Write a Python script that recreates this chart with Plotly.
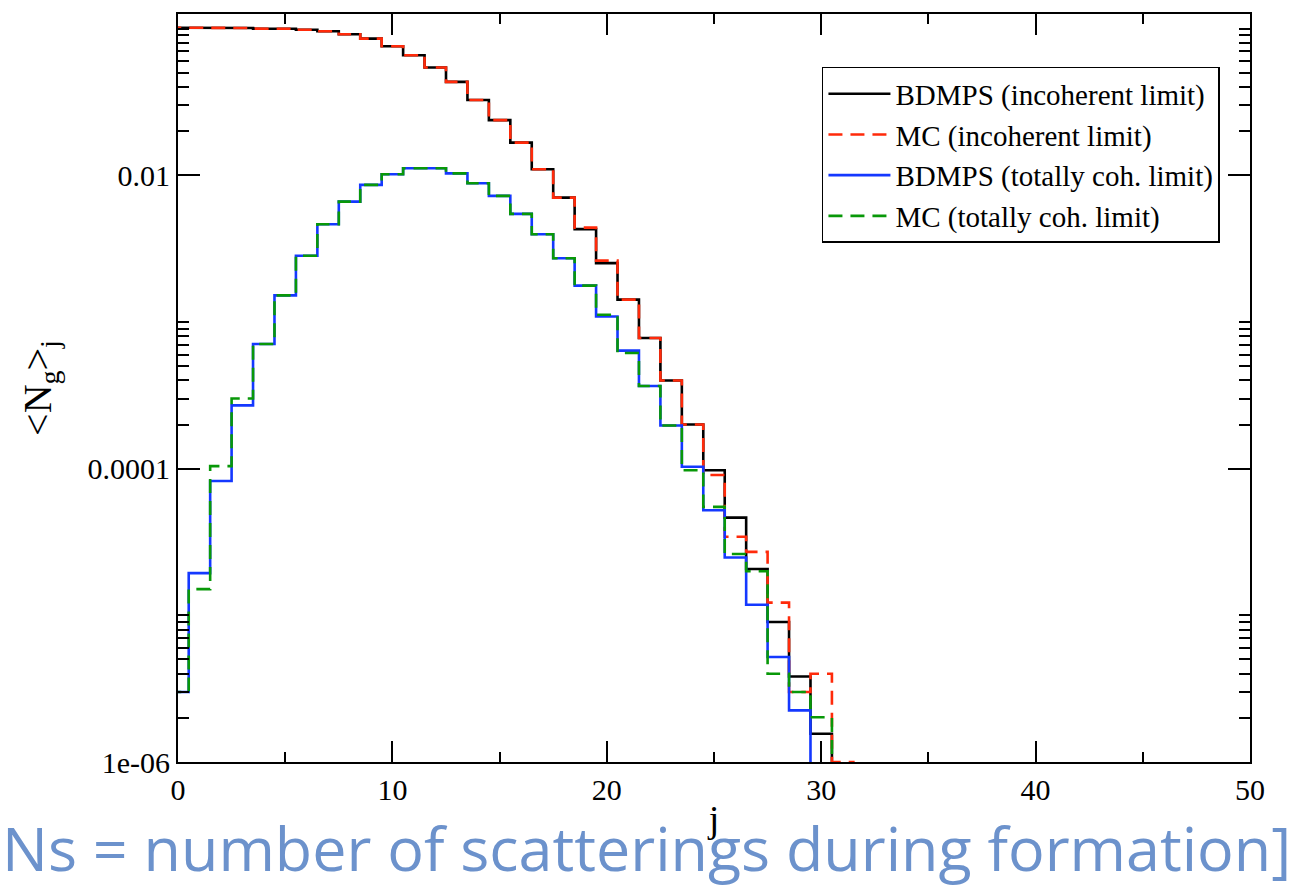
import plotly.graph_objects as go

# Gluon multiplicity per number of scatterings j (j = 0, 1, 2, ...)
bdmps_incoherent = [0.1016, 0.1016, 0.1016, 0.101, 0.100, 0.0999, 0.0984, 0.0960, 0.0916, 0.0855,
                    0.0759, 0.0659, 0.0543, 0.0434, 0.0326, 0.0238, 0.0167, 0.0110, 0.00705, 0.00430,
                    0.00252, 0.00142, 0.000778, 0.000399, 0.000200, 9.75e-5, 4.64e-5, 2.07e-5, 9.0e-6,
                    3.83e-6, 1.56e-6]
mc_incoherent = [0.1016, 0.1016, 0.1016, 0.101, 0.100, 0.0999, 0.0984, 0.0960, 0.0916, 0.0855,
                 0.0759, 0.0659, 0.0543, 0.0434, 0.0326, 0.0238, 0.0167, 0.0110, 0.00705, 0.00440,
                 0.00262, 0.00142, 0.000778, 0.000399, 0.000200, 9.06e-5, 3.43e-5, 2.71e-5, 1.22e-5,
                 3.0e-6, 4.0e-6, 1.0e-6]
bdmps_coherent = [3.0e-6, 1.94e-5, 8.24e-5, 2.70e-4, 7.08e-4, 1.52e-3, 2.83e-3, 4.64e-3, 6.62e-3,
                  8.61e-3, 1.016e-2, 1.117e-2, 1.117e-2, 1.032e-2, 8.84e-3, 7.24e-3, 5.46e-3, 3.97e-3,
                  2.72e-3, 1.77e-3, 1.09e-3, 6.38e-4, 3.66e-4, 1.97e-4, 1.03e-4, 5.21e-5, 2.48e-5,
                  1.18e-5, 5.2e-6, 2.25e-6]
mc_coherent = [3.0e-6, 1.51e-5, 1.04e-4, 3.01e-4, 7.08e-4, 1.52e-3, 2.83e-3, 4.64e-3, 6.62e-3,
               8.61e-3, 1.016e-2, 1.117e-2, 1.117e-2, 1.032e-2, 8.84e-3, 7.24e-3, 5.46e-3, 3.97e-3,
               2.72e-3, 1.77e-3, 1.12e-3, 6.15e-4, 3.66e-4, 1.97e-4, 9.75e-5, 5.49e-5, 2.62e-5,
               2.0e-5, 4.0e-6, 3.0e-6, 2.02e-6]

series_names = ["BDMPS (incoherent limit)", "MC (incoherent limit)",
                "BDMPS (totally coh. limit)", "MC (totally coh. limit)"]
series_colors = ["#000000", "#ff2a0a", "#1438ff", "#089808"]
series_dash = ["solid", "14px,8px", "solid", "14px,8px"]

y_major = [1e-6, 1e-4, 1e-2]
y_major_text = ["1e-06", "0.0001", "0.01"]

FLOOR = 1e-12  # empty bins after the last filled one


def stairs(values):
    """Centered histogram steps: bin j spans [j-0.5, j+0.5]."""
    xs, ys = [], []
    for j, v in enumerate(values):
        xs += [j - 0.5, j + 0.5]
        ys += [v, v]
    xs.append(len(values) - 0.5)
    ys.append(FLOOR)
    return xs, ys


fig = go.Figure()
for i, vals in enumerate([bdmps_incoherent, mc_incoherent, bdmps_coherent, mc_coherent]):
    xs, ys = stairs(vals)
    fig.add_trace(go.Scatter(
        x=xs, y=ys, mode="lines", name=series_names[i], legendgroup=f"g{i}",
        line=dict(color=series_colors[i], width=2.6, dash=series_dash[i]),
    ))

y_minor = [k * d for d in y_major for k in range(2, 11)]

serif = "Liberation Serif, Times New Roman, serif"
fig.update_layout(
    width=1297, height=893,
    margin=dict(l=178, r=47, t=12, b=131),
    paper_bgcolor="white", plot_bgcolor="white",
    font=dict(family=serif, color="black", size=30),
    showlegend=True,
    legend=dict(
        x=0.6007, y=0.9293, xanchor="left", yanchor="top",
        bordercolor="black", borderwidth=1.5, bgcolor="white",
        font=dict(family=serif, size=29, color="black"),
        traceorder="grouped", tracegroupgap=0, itemwidth=62,
    ),
    xaxis=dict(
        range=[0, 50], tickmode="linear", tick0=0, dtick=10,
        ticks="inside", ticklen=21, tickwidth=1.6, tickcolor="black",
        showline=True, linewidth=2, linecolor="black", mirror="allticks",
        showgrid=False, zeroline=False,
        tickfont=dict(family=serif, size=30),
        minor=dict(tick0=0, dtick=5, ticks="inside", ticklen=10, tickwidth=1.6,
                   tickcolor="black", showgrid=False),
        title=dict(text="j", font=dict(family=serif, size=38), standoff=0),
    ),
    yaxis=dict(
        type="log", range=[-6, -0.9],
        tickmode="array", tickvals=y_major, ticktext=y_major_text,
        ticks="inside", ticklen=22, tickwidth=1.6, tickcolor="black",
        showline=True, linewidth=2, linecolor="black", mirror="allticks",
        showgrid=False, zeroline=False,
        tickfont=dict(family=serif, size=30),
        minor=dict(tickmode="array", tickvals=y_minor, ticks="inside", ticklen=11,
                   tickwidth=1.6, tickcolor="black", showgrid=False),
        title=dict(text="&lt;N<sub>g</sub>&gt;<sub>j</sub>", font=dict(family=serif, size=40),
                   standoff=24),
    ),
)

fig.add_annotation(
    text="Ns = number of scatterings during formation]",
    xref="paper", yref="paper", x=-178 / 1072, y=-0.1147, xanchor="left", yanchor="middle",
    showarrow=False, font=dict(family="Open Sans, sans-serif", size=61, color="#6c92cc"),
)

fig.write_html("out.html")
